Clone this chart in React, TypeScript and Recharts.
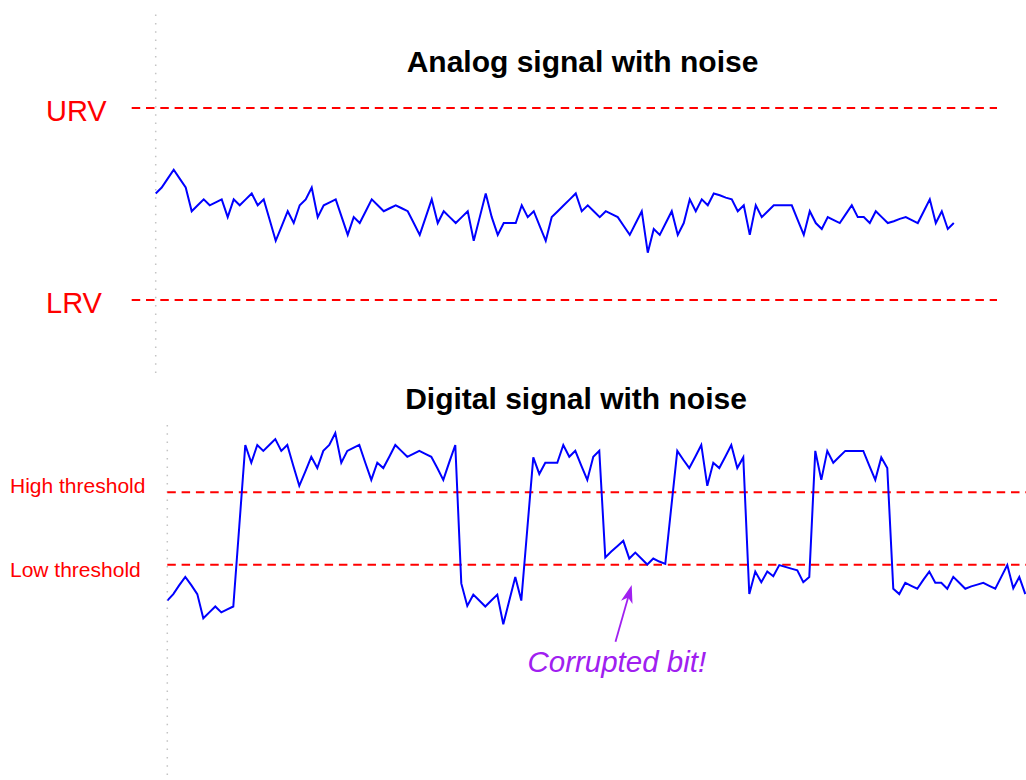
import { Line, LineChart, ReferenceLine, XAxis, YAxis } from "recharts";

// analog signal, one sample every step (level units, LRV = 0)
const analogLevels = [
  18, 19, 20.5, 22, 20.5, 19, 15, 16, 17, 16, 16.5, 17, 14, 17, 16, 17, 18, 16, 17, 13.5,
  10, 12.5, 15, 13, 16, 17, 19, 14, 16, 16.5, 17, 14, 11, 14, 13, 15, 17, 16, 15, 15.5,
  16, 15.5, 15, 13, 11, 14, 17, 13, 15, 14, 13, 14, 15, 10, 14, 18, 14, 11, 13, 13,
  13, 16, 14, 15, 12.5, 10, 14, 15, 16, 17, 18, 15, 16, 15, 14, 15, 14.5, 14, 12.5, 11,
  13, 15, 8, 12, 11, 13, 15, 11, 13, 17, 15, 17, 16, 18, 17.7, 17.3, 17, 15, 16, 11,
  16, 14, 15, 16, 16, 16, 16, 13.5, 11, 15, 13, 12, 14, 13.5, 13, 14.5, 16, 14, 14, 13,
  15, 14, 13, 13.3, 13.7, 14, 13.5, 13, 15, 17, 13, 15, 12, 13,
];

// digital signal with noise
const digitalLevels = [
  3.0, 4.1, 5.6, 7.0, 5.6, 4.1, 0, 1.0, 2.0, 1.0, 1.5, 2.0, 15.6, 29.3, 26.3, 29.3, 28.3, 29.3, 30.3, 28.3,
  29.3, 25.8, 22.4, 24.8, 27.3, 25.4, 28.3, 29.3, 31.3, 26.3, 28.3, 28.8, 29.3, 26.3, 23.4, 26.3, 25.4, 27.3, 29.3, 28.3,
  27.3, 27.8, 28.3, 27.8, 27.3, 25.4, 23.4, 26.4, 29.3, 5.9, 2.1, 4.0, 3.0, 2.0, 3.0, 4.0, -1.0, 3.0, 7.0, 3.0,
  15.1, 27.2, 24.4, 26.3, 26.3, 26.3, 29.3, 27.3, 28.3, 25.8, 23.4, 27.3, 28.3, 10.3, 11.3, 12.2, 13.1, 10.1, 11.1, 10.1,
  9.1, 10.1, 9.6, 9.2, 18.8, 28.3, 26.8, 25.4, 27.3, 29.3, 22.4, 26.3, 25.4, 27.3, 29.3, 25.4, 27.2, 4.1, 7.9, 6.1,
  7.9, 7.1, 9.0, 8.7, 8.4, 8.1, 6.1, 7.0, 28.3, 23.4, 28.3, 26.3, 27.3, 28.3, 28.3, 28.3, 28.3, 25.8, 23.4, 27.2,
  25.4, 5.0, 4.1, 6.0, 5.5, 5.0, 6.5, 7.9, 6.0, 6.0, 5.0, 7.0, 6.0, 5.0, 5.4, 5.7, 6.0, 5.5, 5.0, 7.0,
  9.0, 5.1, 7.0, 4.1,
];

const URV = 32.43;
const LRV = 0;
const HIGH_THRESHOLD = 21.3;
const LOW_THRESHOLD = 9.07;

// arrow pointing at the corrupted bit (data coords: tail, tip)
const corruptedArrow = [
  { x: 74.7, y: -3.95 },
  { x: 77.4, y: 5.63 },
];

const analogData = analogLevels.map((v, i) => ({ i, v }));
const digitalData = digitalLevels.map((v, i) => ({ i, v }));

const FONT = '"Liberation Sans", Arial, Helvetica, sans-serif';
const RED = "#ff0000";
const BLUE = "#0000ff";
const PURPLE = "#a020f0";
const DASH = "8.5 5.8";

const sideLabel = (text: string, x: number, dy: number, size: number) => (props: any) => {
  const { viewBox } = props;
  return (
    <text x={x} y={viewBox.y + dy} fill={RED} fontSize={size} fontFamily={FONT}>
      {text}
    </text>
  );
};

const ArrowShape = (props: any) => {
  const { x1, y1, x2, y2 } = props;
  const len = Math.hypot(x2 - x1, y2 - y1);
  const ux = (x2 - x1) / len;
  const uy = (y2 - y1) / len;
  const bx = x2 - ux * 18;
  const by = y2 - uy * 18;
  const px = -uy;
  const py = ux;
  const head = [
    [x2, y2],
    [bx + px * 6, by + py * 6],
    [x2 - ux * 13, y2 - uy * 13],
    [bx - px * 6, by - py * 6],
  ]
    .map((p) => p.join(","))
    .join(" ");
  return (
    <g>
      <line x1={x1} y1={y1} x2={x2 - ux * 12} y2={y2 - uy * 12} stroke={PURPLE} strokeWidth={1.8} />
      <polygon points={head} fill={PURPLE} />
      <text
        x={x1 + 1.3}
        y={y1 + 30}
        textAnchor="middle"
        fill={PURPLE}
        fontSize={29.5}
        fontStyle="italic"
        fontFamily={FONT}>
        Corrupted bit!
      </text>
    </g>
  );
};

export default function App() {
  return (
    <div
      style={{
        position: "absolute",
        left: 0,
        top: 0,
        width: 1026,
        height: 780,
        background: "#fff",
        overflow: "hidden",
      }}>
      <svg
        width={1026}
        height={780}
        style={{ position: "absolute", left: 0, top: 0 }}
        fontFamily={FONT}>
        <text x={582.5} y={72.3} textAnchor="middle" fontSize={30} fontWeight="bold" fill="#000">
          Analog signal with noise
        </text>
        <text x={576} y={408.5} textAnchor="middle" fontSize={30} fontWeight="bold" fill="#000">
          Digital signal with noise
        </text>
      </svg>

      <div style={{ position: "absolute", left: 0, top: 0 }}>
        <LineChart
          width={1026}
          height={390}
          data={analogData}
          margin={{ top: 13, right: 29, bottom: 17, left: 131.7 }}>
          <XAxis type="number" dataKey="i" domain={[-4, 140.2]} allowDataOverflow hide />
          <YAxis type="number" domain={[-12.33, 48.48]} allowDataOverflow hide />
          <ReferenceLine x={0} stroke="#c4c4c4" strokeWidth={1.5} strokeDasharray="1.5 6.8" />
          <ReferenceLine
            y={URV}
            stroke={RED}
            strokeWidth={2}
            strokeDasharray={DASH}
            label={sideLabel("URV", 46, 12.7, 29)}
          />
          <ReferenceLine
            y={LRV}
            stroke={RED}
            strokeWidth={2}
            strokeDasharray={DASH}
            label={sideLabel("LRV", 46, 12.7, 29)}
          />
          <Line
            type="linear"
            dataKey="v"
            stroke={BLUE}
            strokeWidth={2}
            dot={false}
            activeDot={false}
            isAnimationActive={false}
          />
        </LineChart>
      </div>

      <div style={{ position: "absolute", left: 0, top: 390 }}>
        <LineChart
          width={1026}
          height={390}
          data={digitalData}
          margin={{ top: 30, right: 0, bottom: 5, left: 167.3 }}>
          <XAxis type="number" dataKey="i" domain={[0, 143.12]} allowDataOverflow hide />
          <YAxis type="number" domain={[-26.48, 33.52]} allowDataOverflow hide />
          <ReferenceLine x={0} stroke="#c4c4c4" strokeWidth={1.5} strokeDasharray="1.5 6.8" />
          <ReferenceLine
            y={HIGH_THRESHOLD}
            stroke={RED}
            strokeWidth={2}
            strokeDasharray={DASH}
            label={sideLabel("High threshold", 10, 1, 21)}
          />
          <ReferenceLine
            y={LOW_THRESHOLD}
            stroke={RED}
            strokeWidth={2}
            strokeDasharray={DASH}
            label={sideLabel("Low threshold", 10, 12, 21)}
          />
          <ReferenceLine segment={corruptedArrow} stroke={PURPLE} shape={ArrowShape} />
          <Line
            type="linear"
            dataKey="v"
            stroke={BLUE}
            strokeWidth={2}
            dot={false}
            activeDot={false}
            isAnimationActive={false}
          />
        </LineChart>
      </div>
    </div>
  );
}
